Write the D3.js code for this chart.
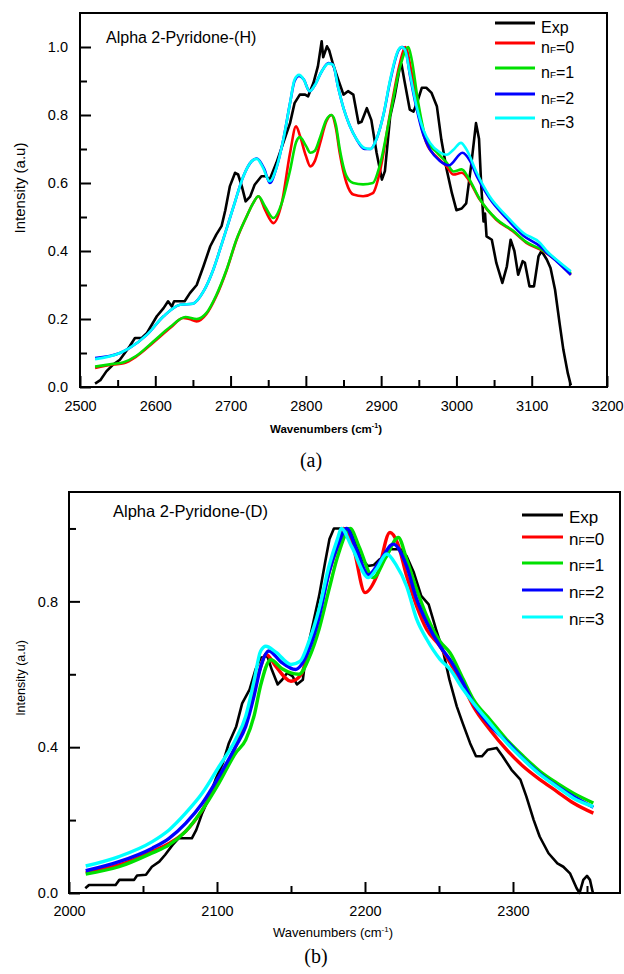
<!DOCTYPE html>
<html>
<head>
<meta charset="utf-8">
<script src="https://cdn.jsdelivr.net/npm/d3@7"></script>
<style>
  body { margin: 0; background: #fff; }
  text { font-family: "Liberation Sans", Arial, sans-serif; }
</style>
</head>
<body>
<svg id="fig" width="624" height="974"></svg>
<script>
// ---------- panel (a): Alpha 2-Pyridone-(H) ----------
var expH_x = [2520,2527,2535,2544,2553,2566,2573,2582,2589,2602,2611,2617,2622,2625,2639,2646,2655,2664,2673,2681,2688,2693,2699,2706,2710,2715,2720,2726,2732,2741,2747,2752,2761,2770,2779,2785,2792,2799,2803,2810,2816,2821,2823,2828,2831,2836,2843,2850,2856,2863,2870,2874,2881,2887,2894,2901,2905,2912,2918,2925,2927,2931,2938,2943,2949,2954,2960,2967,2974,2980,2987,2994,3000,3007,3013,3020,3026,3030,3033,3036,3038,3040,3047,3053,3061,3067,3072,3077,3082,3088,3091,3097,3103,3109,3113,3120,3125,3131,3137,3142,3148,3152];
var expH_y = [0.01,0.02,0.046,0.066,0.08,0.12,0.144,0.144,0.159,0.208,0.232,0.252,0.237,0.252,0.252,0.276,0.30,0.355,0.414,0.448,0.473,0.52,0.59,0.63,0.625,0.59,0.546,0.56,0.595,0.62,0.62,0.61,0.66,0.718,0.776,0.835,0.86,0.86,0.855,0.894,0.943,1.017,0.97,1.002,0.99,0.95,0.904,0.86,0.87,0.86,0.776,0.78,0.82,0.785,0.688,0.61,0.635,0.796,0.855,0.943,0.95,0.90,0.816,0.81,0.845,0.88,0.88,0.865,0.826,0.727,0.64,0.57,0.52,0.525,0.54,0.66,0.776,0.73,0.59,0.487,0.51,0.443,0.433,0.365,0.306,0.355,0.433,0.40,0.33,0.37,0.365,0.296,0.296,0.384,0.40,0.375,0.35,0.286,0.188,0.11,0.04,0.005];

var nf0H_x = [2520,2544,2558,2575,2597,2620,2637,2645,2655,2668,2681,2695,2708,2721,2730,2737,2746,2757,2768,2779,2787,2792,2800,2806,2812,2819,2827,2834,2840,2845,2854,2863,2876,2889,2898,2912,2925,2932,2940,2949,2960,2974,2987,2996,3007,3016,3031,3053,3075,3093,3115,3133,3152];
var nf0H_y = [0.056,0.066,0.07,0.09,0.13,0.174,0.203,0.20,0.193,0.215,0.267,0.345,0.433,0.50,0.541,0.561,0.52,0.482,0.541,0.688,0.767,0.74,0.68,0.649,0.665,0.718,0.78,0.80,0.76,0.688,0.60,0.566,0.561,0.57,0.63,0.806,0.953,1.0,0.93,0.81,0.718,0.676,0.649,0.625,0.63,0.61,0.551,0.492,0.458,0.424,0.40,0.371,0.33];

var nf1H_x = [2520,2544,2558,2575,2597,2620,2640,2655,2668,2681,2695,2708,2721,2730,2737,2746,2757,2768,2779,2787,2792,2800,2806,2812,2819,2827,2834,2840,2845,2854,2863,2876,2889,2898,2912,2925,2936,2940,2949,2960,2974,2987,2996,3007,3016,3031,3053,3075,3093,3115,3133,3152];
var nf1H_y = [0.06,0.068,0.073,0.092,0.133,0.177,0.206,0.20,0.218,0.27,0.347,0.435,0.50,0.541,0.561,0.53,0.497,0.541,0.637,0.72,0.735,0.71,0.689,0.695,0.735,0.785,0.80,0.77,0.70,0.62,0.60,0.596,0.60,0.65,0.80,0.94,1.0,0.97,0.84,0.727,0.69,0.66,0.634,0.64,0.615,0.553,0.494,0.46,0.426,0.402,0.373,0.335];

var nf2H_x = [2520,2553,2566,2589,2611,2633,2650,2664,2677,2690,2704,2717,2728,2735,2745,2752,2761,2770,2779,2785,2791,2797,2805,2812,2821,2830,2836,2843,2850,2858,2867,2878,2886,2894,2903,2912,2923,2928,2933,2938,2947,2956,2965,2978,2990,3008,3018,3027,3044,3067,3089,3111,3120,3133,3152];
var nf2H_y = [0.085,0.10,0.115,0.154,0.208,0.242,0.245,0.281,0.345,0.433,0.531,0.62,0.664,0.672,0.64,0.60,0.645,0.727,0.835,0.90,0.915,0.905,0.87,0.888,0.928,0.953,0.948,0.88,0.82,0.77,0.73,0.70,0.70,0.73,0.80,0.90,0.99,1.0,0.985,0.92,0.82,0.742,0.698,0.665,0.652,0.689,0.665,0.62,0.555,0.495,0.445,0.414,0.395,0.37,0.33];

var nf3H_x = [2520,2553,2566,2589,2611,2633,2650,2664,2677,2690,2704,2717,2728,2735,2743,2752,2761,2770,2779,2785,2791,2797,2805,2812,2821,2830,2836,2843,2850,2858,2867,2878,2886,2894,2903,2912,2923,2927,2932,2938,2947,2956,2965,2978,2987,2996,3006,3013,3027,3044,3067,3089,3111,3120,3133,3152];
var nf3H_y = [0.082,0.10,0.115,0.154,0.208,0.242,0.245,0.281,0.345,0.433,0.531,0.62,0.664,0.671,0.645,0.605,0.645,0.727,0.835,0.904,0.918,0.905,0.87,0.888,0.928,0.951,0.948,0.88,0.82,0.77,0.73,0.703,0.70,0.73,0.80,0.904,0.992,1.0,0.99,0.924,0.826,0.757,0.718,0.69,0.683,0.698,0.718,0.70,0.63,0.561,0.502,0.453,0.424,0.40,0.374,0.34];

// ---------- panel (b): Alpha 2-Pyridone-(D) ----------
var expD_x = [2011,2013.5,2031.5,2034,2044,2046,2052,2056,2061,2065,2070,2074,2083,2086,2090,2095,2099,2104,2108,2113,2117,2122,2126,2129.5,2134,2137,2141,2144,2147.5,2151,2154,2158,2160,2164,2169,2173,2176,2179,2190,2194,2199,2202,2206,2210,2215,2217,2224,2228,2233,2238,2243,2248,2253,2257,2262,2266,2271,2275,2279,2283,2289,2293,2299,2305,2309,2314,2318,2324,2330,2334,2338.5,2343,2345,2347.5,2350,2352,2354];
var expD_y = [0.013,0.022,0.022,0.036,0.036,0.048,0.05,0.072,0.086,0.105,0.132,0.15,0.15,0.173,0.219,0.265,0.311,0.357,0.411,0.457,0.52,0.558,0.613,0.645,0.65,0.613,0.572,0.585,0.604,0.595,0.572,0.585,0.65,0.723,0.815,0.906,0.971,1.0,1.0,0.952,0.911,0.897,0.90,0.916,0.925,0.943,0.943,0.925,0.879,0.815,0.792,0.723,0.659,0.586,0.512,0.466,0.411,0.375,0.375,0.393,0.398,0.375,0.338,0.311,0.265,0.20,0.155,0.109,0.081,0.072,0.054,0.013,0.0,0.036,0.047,0.036,0.0];

var nf0D_x = [2011.3,2033.8,2056.3,2067.6,2078.8,2090.1,2101.4,2112.6,2119.4,2125,2129.5,2133,2140,2150,2157,2162.2,2168.9,2175.7,2181.3,2185.4,2192,2200,2208,2216.9,2222,2228.1,2234.9,2241.7,2250.7,2257.4,2266.4,2273.2,2284.4,2295.7,2307,2318.2,2329.5,2340.8,2354.3];
var nf0D_y = [0.055,0.077,0.114,0.136,0.169,0.228,0.311,0.402,0.476,0.558,0.62,0.655,0.62,0.581,0.60,0.677,0.769,0.88,0.95,1.0,0.95,0.824,0.87,0.989,0.96,0.87,0.787,0.723,0.677,0.632,0.567,0.512,0.448,0.393,0.347,0.311,0.279,0.247,0.219];

var nf1D_x = [2011.3,2033.8,2056.3,2067.6,2078.8,2090.1,2101.4,2112.6,2119.4,2125,2129.5,2136.3,2144,2155.4,2162.2,2168.9,2175.7,2181.3,2190,2196,2205.6,2214,2222.5,2228.1,2234.9,2241.7,2250.7,2257.4,2266.4,2273.2,2284.4,2295.7,2307,2318.2,2329.5,2340.8,2354.3];
var nf1D_y = [0.052,0.072,0.11,0.132,0.169,0.228,0.302,0.384,0.42,0.485,0.57,0.64,0.615,0.60,0.645,0.723,0.833,0.92,1.0,0.95,0.865,0.92,0.975,0.916,0.833,0.76,0.69,0.659,0.586,0.531,0.476,0.421,0.375,0.334,0.302,0.274,0.247];

var nf2D_x = [2011.3,2033.8,2056.3,2067.6,2078.8,2090.1,2101.4,2112.6,2119.4,2125,2129.5,2135,2143,2153,2162.2,2168.9,2175.7,2181.3,2187.6,2194,2202.3,2210,2219.1,2228.1,2234.9,2241.7,2250.7,2257.4,2266.4,2273.2,2284.4,2295.7,2307,2318.2,2329.5,2340.8,2354.3];
var nf2D_y = [0.061,0.086,0.123,0.15,0.191,0.246,0.32,0.402,0.457,0.54,0.62,0.664,0.635,0.613,0.668,0.755,0.88,0.95,1.0,0.945,0.873,0.91,0.957,0.897,0.806,0.742,0.677,0.64,0.575,0.52,0.46,0.416,0.368,0.327,0.294,0.265,0.235];

var nf3D_x = [2011.3,2033.8,2056.3,2067.6,2078.8,2090.1,2101.4,2112.6,2119.4,2125,2129.5,2133,2140,2150,2156,2162.2,2168.9,2175.7,2181.3,2184,2191,2202.3,2208,2214.6,2221,2228.1,2234.9,2241.7,2250.7,2257.4,2266.4,2273.2,2284.4,2295.7,2307,2318.2,2329.5,2340.8,2354.3];
var nf3D_y = [0.074,0.10,0.141,0.173,0.219,0.274,0.347,0.421,0.485,0.581,0.664,0.677,0.66,0.627,0.635,0.691,0.778,0.897,0.97,1.0,0.95,0.865,0.89,0.93,0.9,0.842,0.751,0.696,0.641,0.614,0.558,0.521,0.466,0.412,0.366,0.325,0.292,0.26,0.237];

var legendLabels = ["Exp", "nF=0", "nF=1", "nF=2", "nF=3"];
var seriesColors = ["#000000", "#ff0000", "#00e000", "#0000ff", "#00ffff"];

// tick values
var xMajorA = [2500,2600,2700,2800,2900,3000,3100,3200];
var xMinorA = [2550,2650,2750,2850,2950,3050,3150];
var yMajorA = [0,0.2,0.4,0.6,0.8,1.0];
var yMinorA = [0.1,0.3,0.5,0.7,0.9];
var xMajorB = [2000,2100,2200,2300];
var xMinorB = [2050,2150,2250,2350];
var yMajorB = [0,0.4,0.8];
var yMinorB = [0.2,0.6,1.0];

var svg = d3.select("#fig");

function drawPanel(p) {
  var x = d3.scaleLinear().domain(p.xDomain).range([p.left, p.right]);
  var y = d3.scaleLinear().domain([0, 1.1]).range([p.bottom, p.top]);
  var g = svg.append("g");

  // minor ticks
  g.append("g").attr("transform", "translate(0," + p.bottom + ")")
    .call(d3.axisBottom(x).tickValues(p.xMinor).tickSize(-7).tickSizeOuter(0).tickFormat(""));
  g.append("g").attr("transform", "translate(" + p.left + ",0)")
    .call(d3.axisLeft(y).tickValues(p.yMinor).tickSize(-7).tickSizeOuter(0).tickFormat(""));
  // major ticks
  g.append("g").attr("transform", "translate(0," + p.bottom + ")")
    .call(d3.axisBottom(x).tickValues(p.xMajor).tickSize(-11).tickSizeOuter(0)
      .tickPadding(p.xPad).tickFormat(d3.format("d")));
  g.append("g").attr("transform", "translate(" + p.left + ",0)")
    .call(d3.axisLeft(y).tickValues(p.yMajor).tickSize(-11).tickSizeOuter(0)
      .tickPadding(p.yPad).tickFormat(d3.format(".1f")));
  g.selectAll(".domain").remove();
  g.selectAll(".tick line").attr("stroke", "#000").attr("stroke-width", 2);
  g.selectAll(".tick text").attr("fill", "#000").style("font-size", "14.5px")
    .style("font-family", "'Liberation Sans', Arial, sans-serif");

  // curves
  var line = d3.line()
    .x(function (d) { return x(d[0]); })
    .y(function (d) { return y(d[1]); });
  p.series.forEach(function (s, i) {
    var pts = d3.zip(s[0], s[1]);
    line.curve(i === 0 ? d3.curveLinear : d3.curveMonotoneX);
    g.append("path").attr("d", line(pts)).attr("fill", "none")
      .attr("stroke", seriesColors[i])
      .attr("stroke-width", i === 0 ? p.expWidth : p.simWidth)
      .attr("stroke-linejoin", "round");
  });

  // frame
  g.append("rect").attr("x", p.left).attr("y", p.top)
    .attr("width", p.right - p.left).attr("height", p.bottom - p.top)
    .attr("fill", "none").attr("stroke", "#000").attr("stroke-width", 2);

  // title in box
  g.append("text").attr("x", p.titleX).attr("y", p.titleY)
    .style("font-size", p.titleSize + "px").text(p.title);

  // legend
  legendLabels.forEach(function (lab, i) {
    var ly = p.legendY[i];
    g.append("line").attr("x1", p.legX1).attr("x2", p.legX2)
      .attr("y1", ly).attr("y2", ly)
      .attr("stroke", seriesColors[i]).attr("stroke-width", 3);
    var t = g.append("text").attr("x", p.legX2 + 6).attr("y", ly + p.legDrop)
      .style("font-size", p.legSize + "px");
    if (lab.indexOf("nF") === 0) {
      t.append("tspan").text("n");
      t.append("tspan").style("font-size", (p.legSize * 0.62) + "px").text("F");
      t.append("tspan").text(lab.slice(2));
    } else {
      t.text(lab);
    }
  });

  // axis titles
  g.append("text")
    .attr("transform", "translate(" + p.yLabX + "," + p.yLabY + ") rotate(-90)")
    .attr("text-anchor", "middle").style("font-size", p.yLabSize + "px")
    .text("Intensity (a.u)");
  var xl = g.append("text").attr("x", p.xLabX).attr("y", p.xLabY)
    .attr("text-anchor", "middle").style("font-size", p.xLabSize + "px")
    .style("font-weight", p.xLabBold ? "bold" : "normal");
  xl.append("tspan").text("Wavenumbers (cm");
  xl.append("tspan").attr("dy", -p.xLabSize * 0.4).style("font-size", (p.xLabSize * 0.62) + "px").text("-1");
  xl.append("tspan").attr("dy", p.xLabSize * 0.4).text(")");

  // panel letter
  g.append("text").attr("x", p.capX).attr("y", p.capY).attr("text-anchor", "middle")
    .style("font-family", "'Liberation Serif', 'Times New Roman', serif")
    .style("font-size", "20px").text(p.caption);
}

drawPanel({
  left: 80, right: 607, top: 13, bottom: 387,
  xDomain: [2500, 3200], xMajor: xMajorA, xMinor: xMinorA, yMajor: yMajorA, yMinor: yMinorA,
  xPad: 14, yPad: 12,
  series: [[expH_x, expH_y], [nf0H_x, nf0H_y], [nf1H_x, nf1H_y], [nf2H_x, nf2H_y], [nf3H_x, nf3H_y]],
  expWidth: 2.6, simWidth: 2.6,
  title: "Alpha 2-Pyridone-(H)", titleX: 106, titleY: 43, titleSize: 16,
  legX1: 495, legX2: 535, legSize: 16, legDrop: 10, legendY: [23, 43, 68, 94, 118],
  yLabX: 25, yLabY: 188, yLabSize: 15,
  xLabX: 326, xLabY: 433, xLabSize: 11.5, xLabBold: true,
  caption: "(a)", capX: 311, capY: 467
});

drawPanel({
  left: 69, right: 620, top: 492, bottom: 893,
  xDomain: [2000, 2372.3], xMajor: xMajorB, xMinor: xMinorB, yMajor: yMajorB, yMinor: yMinorB,
  xPad: 13, yPad: 11,
  series: [[expD_x, expD_y], [nf0D_x, nf0D_y], [nf1D_x, nf1D_y], [nf2D_x, nf2D_y], [nf3D_x, nf3D_y]],
  expWidth: 2.6, simWidth: 3.4,
  title: "Alpha 2-Pyridone-(D)", titleX: 113, titleY: 517, titleSize: 16.5,
  legX1: 522, legX2: 563, legSize: 17, legDrop: 8, legendY: [515, 537, 563, 590, 617],
  yLabX: 25, yLabY: 678, yLabSize: 12.5,
  xLabX: 333, xLabY: 937, xLabSize: 13, xLabBold: false,
  caption: "(b)", capX: 316, capY: 963
});
</script>
</body>
</html>
